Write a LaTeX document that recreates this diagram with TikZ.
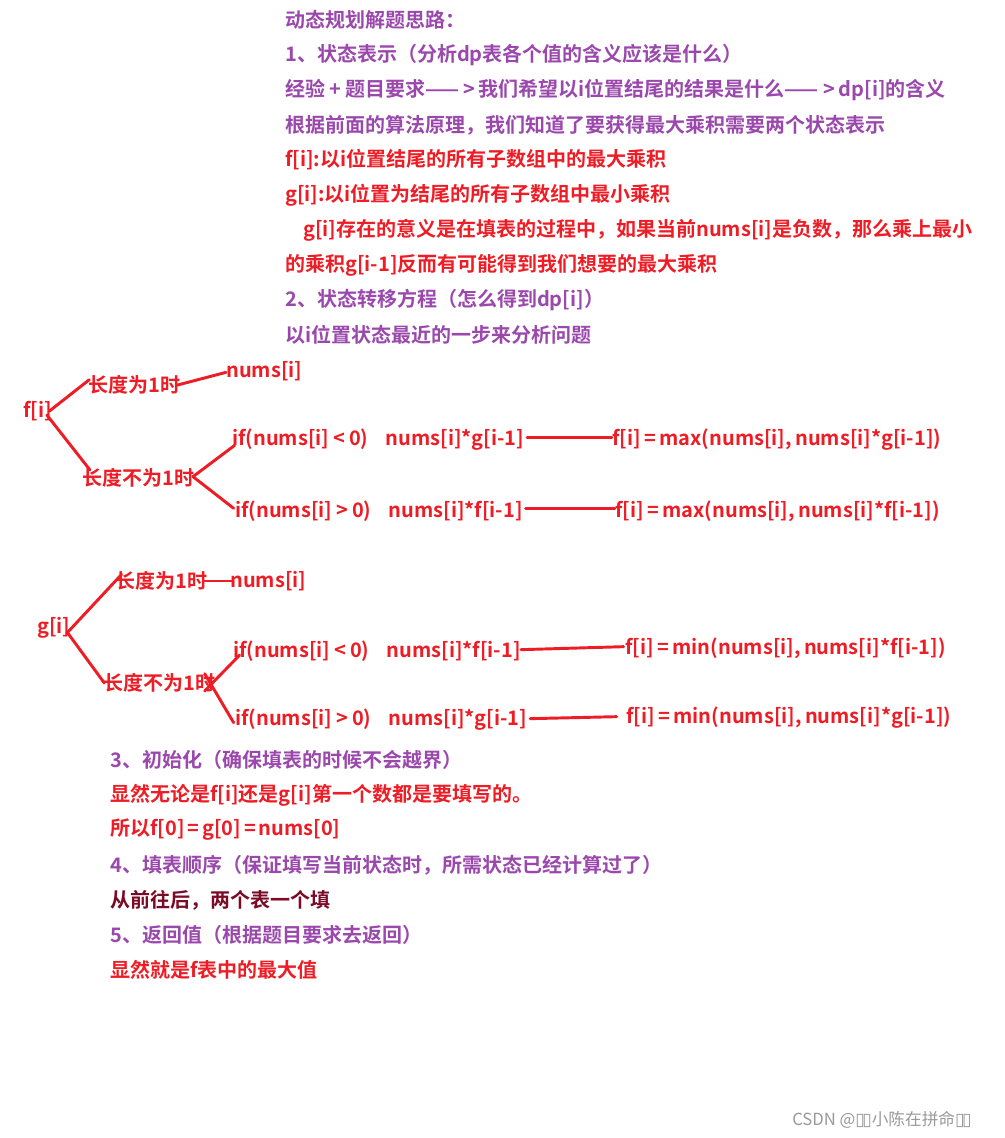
\documentclass[tikz,border=0pt]{standalone}
\usepackage{fontspec}
\setmainfont{Noto Sans CJK SC}[BoldFont={* Bold}]
\newfontfamily\cjkb{Noto Sans CJK SC Bold}
\newfontfamily\cjkr{Noto Sans CJK SC}
\newfontfamily\dvs{DejaVu Sans}
\newcommand\sy[2][2.2pt]{\hspace{#1}#2\hspace{#1}}
\definecolor{pur}{HTML}{9B48AD}
\definecolor{rd}{HTML}{EE1C25}
\definecolor{drd}{HTML}{7A0A26}
\definecolor{wm}{HTML}{9A9A9A}
\tikzset{
  tx/.style={anchor=west,inner sep=0pt,font=\cjkb\fontsize{15}{15}\selectfont},
  pu/.style={tx,text=pur},
  re/.style={tx,text=rd},
  br/.style={draw=rd,line width=2.2pt,line cap=round}
}
\begin{document}
\begin{tikzpicture}[x=0.75pt,y=-0.75pt]
\useasboundingbox[fill=white] (0,0) rectangle (1005,1138);
% header text
\node[pu] (t1) at (285,20) {动态规划解题思路：};
\node[pu] (t2) at (285,55) {1、状态表示（分析dp表各个值的含义应该是什么）};
\node[pu] (t3) at (285,90) {经验\sy[3pt]{+}题目要求——\sy[3pt]{>}我们希望以i位置结尾的结果是什么——\sy[3pt]{>}dp[i]的含义};
\node[pu] (t4) at (285,125) {根据前面的算法原理，我们知道了要获得最大乘积需要两个状态表示};
\node[re] (t5) at (285,160) {f[i]:以i位置结尾的所有子数组中的最大乘积};
\node[re] (t6) at (285,195) {g[i]:以i位置为结尾的所有子数组中最小乘积};
\node[re] (t7) at (303,230) {g[i]存在的意义是在填表的过程中，如果当前nums[i]是负数，那么乘上最小};
\node[re] (t8) at (285,265) {的乘积g[i-1]反而有可能得到我们想要的最大乘积};
\node[pu] (t9) at (285,300) {2、状态转移方程（怎么得到dp[i]）};
\node[pu] (t10) at (285,335) {以i位置状态最近的一步来分析问题};
% f tree
\node[re] (f) at (23,411) {f[i]};
\node[re] (fa) at (88,385) {长度为1时};
\node[re] (fan) at (226,371) {nums[i]};
\node[re] (fb) at (82,478) {长度不为1时};
\node[re] (fc1) at (232,440) {if(nums[i]\sy[3pt]{<}0)\hspace{13pt}nums[i]*g[i-1]};
\node[re] (fr1) at (612,440) {f[i]\sy[2.6pt]{=}max(nums[i],\,nums[i]*g[i-1])};
\node[re] (fc2) at (235,511) {if(nums[i]\sy[3pt]{>}0)\hspace{13pt}nums[i]*f[i-1]};
\node[re] (fr2) at (615,511) {f[i]\sy[2.6pt]{=}max(nums[i],\,nums[i]*f[i-1])};
\draw[br] ([xshift=-2pt]f.east) -- ([xshift=1pt,yshift=4pt]fa.west);
\draw[br] ([xshift=-2pt]fa.east) -- ([yshift=-1pt]fan.west);
\draw[br] ([xshift=-4pt,yshift=-3pt]f.east) -- ([xshift=6pt,yshift=6pt]fb.west);
\draw[br] ([xshift=-1pt,yshift=1pt]fb.east) -- ([xshift=2pt,yshift=-4pt]fc1.west);
\draw[br] ([xshift=-1pt,yshift=1pt]fb.east) -- ([xshift=-1pt,yshift=2pt]fc2.west);
\draw[br] ([xshift=2pt,yshift=2pt]fc1.east) -- ([yshift=2pt]fr1.west);
\draw[br] ([xshift=2pt,yshift=2pt]fc2.east) -- ([yshift=2pt]fr2.west);
% g tree
\node[re] (g) at (37,628) {g[i]};
\node[re] (ga) at (115,581) {长度为1时};
\node[re] (gan) at (230,581) {nums[i]};
\node[re] (gb) at (103,683) {长度不为1时};
\node[re] (gc1) at (233,651) {if(nums[i]\sy[3pt]{<}0)\hspace{13pt}nums[i]*f[i-1]};
\node[re] (gr1) at (625,648) {f[i]\sy[2.6pt]{=}min(nums[i],\,nums[i]*f[i-1])};
\node[re] (gc2) at (235,720) {if(nums[i]\sy[3pt]{>}0)\hspace{13pt}nums[i]*g[i-1]};
\node[re] (gr2) at (626,718) {f[i]\sy[2.6pt]{=}min(nums[i],\,nums[i]*g[i-1])};
\draw[br] ([xshift=-3pt,yshift=-4pt]g.east) -- ([xshift=5pt,yshift=5pt]ga.west);
\draw[br] ([xshift=-2pt]ga.east) -- ([xshift=2pt]gan.west);
\draw[br] ([xshift=-2pt,yshift=-4pt]g.east) -- ([xshift=1pt]gb.west);
\draw[br] ([xshift=-8pt,yshift=-6pt]gb.east) -- ([xshift=5pt,yshift=-3pt]gc1.west);
\draw[br] ([xshift=-8pt,yshift=7pt]gb.east) -- ([xshift=-1pt,yshift=-2pt]gc2.west);
\draw[br] ([xshift=0pt,yshift=1pt]gc1.east) -- ([xshift=-1pt,yshift=1pt]gr1.west);
\draw[br] ([xshift=2pt,yshift=1pt]gc2.east) -- ([xshift=-7pt,yshift=1pt]gr2.west);
% bottom text
\node[pu] (b1) at (110,760) {3、初始化（确保填表的时候不会越界）};
\node[re] (b2) at (110,795) {显然无论是f[i]还是g[i]第一个数都是要填写的。};
\node[re] (b3) at (110,830) {所以f[0]\sy{=}g[0]\sy{=}nums[0]};
\node[pu] (b4) at (110,865) {4、填表顺序（保证填写当前状态时，所需状态已经计算过了）};
\node[tx,text=drd] (b5) at (110,900) {从前往后，两个表一个填};
\node[pu] (b6) at (110,935) {5、返回值（根据题目要求去返回）};
\node[re] (b7) at (110,970) {显然就是f表中的最大值};
\node[anchor=west,inner sep=0pt,text=wm,font=\cjkr\fontsize{12.5}{12.5}\selectfont] (w) at (792,1120) {CSDN @{\dvs\fontsize{13}{13}\selectfont ▯\kern-2pt▯}小陈在拼命{\dvs\fontsize{13}{13}\selectfont ▯\kern-2pt▯}};
\end{tikzpicture}
\end{document}
